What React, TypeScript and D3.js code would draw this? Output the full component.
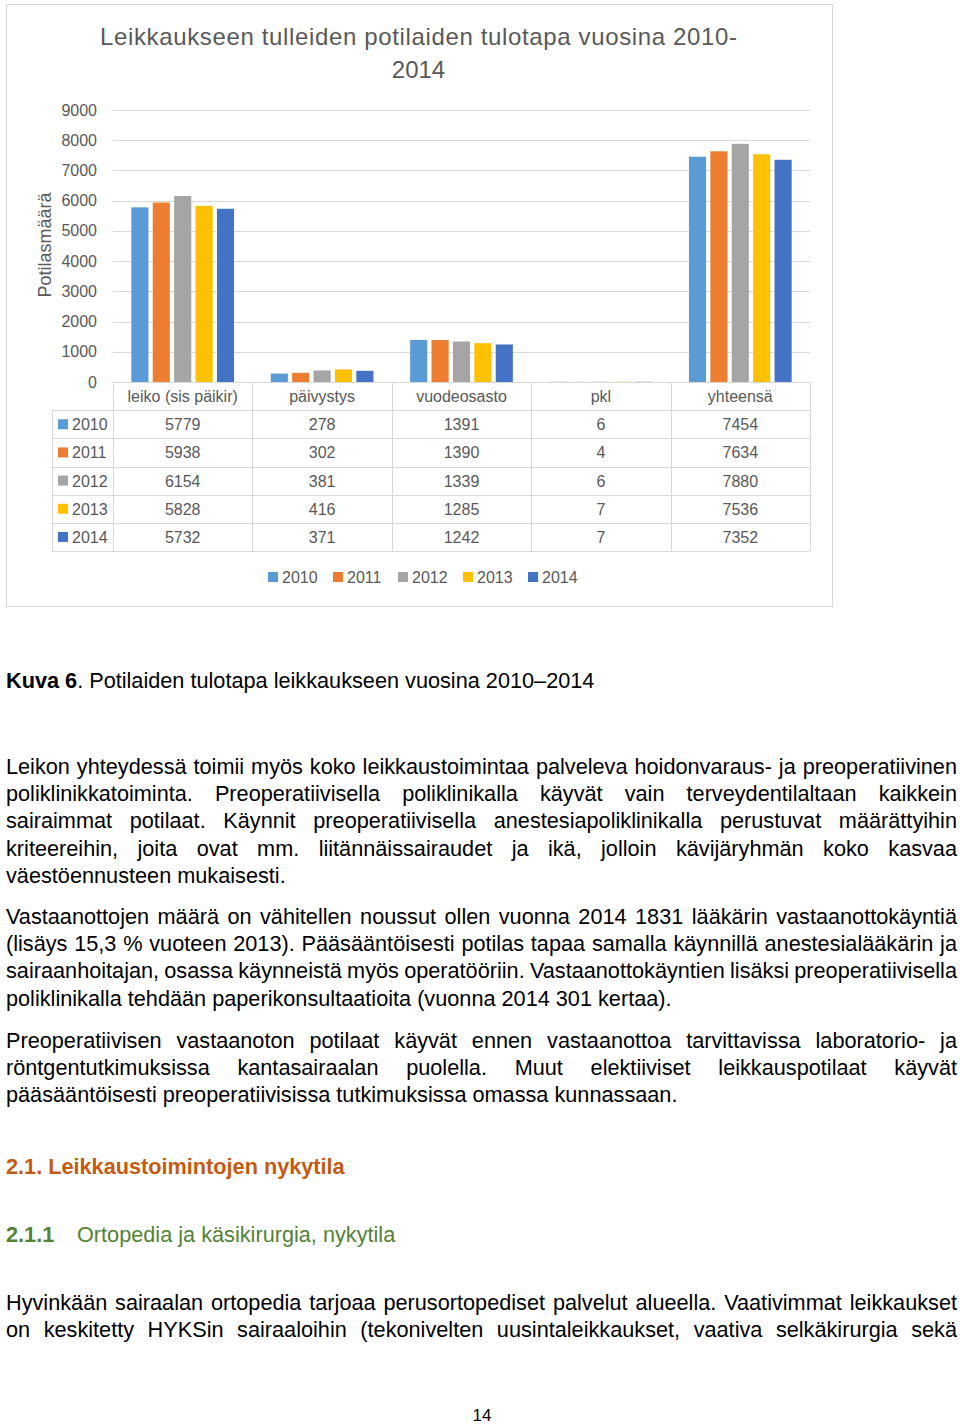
import React, { useMemo } from 'react';
import * as d3 from 'd3';

// ---------- DATA ----------
const categories = ['leiko (sis päikir)', 'päivystys', 'vuodeosasto', 'pkl', 'yhteensä'];
const years = ['2010', '2011', '2012', '2013', '2014'];
const values2010 = [5779, 278, 1391, 6, 7454];
const values2011 = [5938, 302, 1390, 4, 7634];
const values2012 = [6154, 381, 1339, 6, 7880];
const values2013 = [5828, 416, 1285, 7, 7536];
const values2014 = [5732, 371, 1242, 7, 7352];
const seriesValues = [values2010, values2011, values2012, values2013, values2014];
const seriesColors = ['#5B9BD5', '#ED7D31', '#A5A5A5', '#FFC000', '#4472C4'];
const yTicks = [0, 1000, 2000, 3000, 4000, 5000, 6000, 7000, 8000, 9000];
const chartTitleLines = ['Leikkaukseen tulleiden potilaiden tulotapa vuosina 2010-', '2014'];
const yAxisTitle = 'Potilasmäärä';

const captionBold = 'Kuva 6';
const captionRest = '. Potilaiden tulotapa leikkaukseen vuosina 2010–2014';

const paragraph1 = [
  'Leikon yhteydessä toimii myös koko leikkaustoimintaa palveleva hoidonvaraus- ja preoperatiivinen',
  'poliklinikkatoiminta. Preoperatiivisella poliklinikalla käyvät vain terveydentilaltaan kaikkein',
  'sairaimmat potilaat. Käynnit preoperatiivisella anestesiapoliklinikalla perustuvat määrättyihin',
  'kriteereihin, joita ovat mm. liitännäissairaudet ja ikä, jolloin kävijäryhmän koko kasvaa',
  'väestöennusteen mukaisesti.',
];
const paragraph2 = [
  'Vastaanottojen määrä on vähitellen noussut ollen vuonna 2014 1831 lääkärin vastaanottokäyntiä',
  '(lisäys 15,3 % vuoteen 2013). Pääsääntöisesti potilas tapaa samalla käynnillä anestesialääkärin ja',
  'sairaanhoitajan, osassa käynneistä myös operatööriin. Vastaanottokäyntien lisäksi preoperatiivisella',
  'poliklinikalla tehdään paperikonsultaatioita (vuonna 2014 301 kertaa).',
];
const paragraph3 = [
  'Preoperatiivisen vastaanoton potilaat käyvät ennen vastaanottoa tarvittavissa laboratorio- ja',
  'röntgentutkimuksissa kantasairaalan puolella. Muut elektiiviset leikkauspotilaat käyvät',
  'pääsääntöisesti preoperatiivisissa tutkimuksissa omassa kunnassaan.',
];
const heading1 = '2.1. Leikkaustoimintojen nykytila';
const heading2Num = '2.1.1';
const heading2Text = 'Ortopedia ja käsikirurgia, nykytila';
const paragraph4 = [
  'Hyvinkään sairaalan ortopedia tarjoaa perusortopediset palvelut alueella. Vaativimmat leikkaukset',
  'on keskitetty HYKSin sairaaloihin (tekonivelten uusintaleikkaukset, vaativa selkäkirurgia sekä',
];
const pageNumber = '14';

// ---------- HELPERS ----------
const FONT = '"Liberation Sans", Arial, Helvetica, sans-serif';
const BODY = 21.7;
let measureCtx: CanvasRenderingContext2D | null = null;
function measure(text: string, size: number, weight = 'normal') {
  if (!measureCtx) {
    const c = document.createElement('canvas');
    measureCtx = c.getContext('2d');
  }
  if (!measureCtx) return text.length * size * 0.5;
  measureCtx.font = `${weight} ${size}px "Liberation Sans", Arial, sans-serif`;
  return measureCtx.measureText(text).width;
}

function JustifiedLine({ text, x, width, y, size, justify }: { text: string; x: number; width: number; y: number; size: number; justify: boolean }) {
  if (!justify) {
    return (
      <text x={x} y={y} fontSize={size} fill="#000">{text}</text>
    );
  }
  const words = text.split(' ');
  const widths = words.map((w) => measure(w, size));
  const total = d3.sum(widths);
  const gap = (width - total) / (words.length - 1);
  let cx = x;
  const pos = widths.map((w) => {
    const p = cx;
    cx += w + gap;
    return p;
  });
  return (
    <g>
      {words.map((w, i) => (
        <text key={i} x={pos[i]} y={y} fontSize={size} fill="#000">{w}</text>
      ))}
    </g>
  );
}

function Paragraph({ lines, y0, step, justifyLast = false }: { lines: string[]; y0: number; step: number; justifyLast?: boolean }) {
  return (
    <g>
      {lines.map((l, i) => (
        <JustifiedLine key={i} text={l} x={6} width={951} y={y0 + i * step} size={BODY} justify={justifyLast || i < lines.length - 1} />
      ))}
    </g>
  );
}

export default function App() {
  const plotLeft = 113;
  const plotRight = 810;
  const plotTop = 110;
  const plotBottom = 382;
  const tableBottom = 551;
  const legendColLeft = 52;
  const gridColor = '#d9d9d9';
  const textColor = '#595959';

  const y = d3.scaleLinear().domain([0, 9000]).range([plotBottom, plotTop]);
  const x0 = d3.scaleBand<string>().domain(categories).range([plotLeft, plotRight]);
  const x1 = d3.scaleBand<string>().domain(years).range([0, x0.bandwidth()]).paddingInner(0.2).paddingOuter(0.857);
  const rowScale = d3.scaleBand<string>().domain(['header', ...years]).range([plotBottom, tableBottom]);

  const bars = useMemo(() => {
    const out: { x: number; y: number; w: number; h: number; c: string; k: string }[] = [];
    categories.forEach((cat, ci) => {
      years.forEach((yr, si) => {
        const v = seriesValues[si][ci];
        out.push({
          x: (x0(cat) as number) + (x1(yr) as number),
          y: y(v),
          w: x1.bandwidth(),
          h: y(0) - y(v),
          c: seriesColors[si],
          k: `${cat}-${yr}`,
        });
      });
    });
    return out;
  }, []);

  const rowBoundaries = years.map((yr) => rowScale(yr) as number);
  const colBoundaries = categories.map((c) => x0(c) as number).concat([plotRight]);

  return (
    <div style={{ position: 'absolute', left: 0, top: 0 }}>
      <svg width={960} height={1426} style={{ display: 'block', fontFamily: FONT }}>
        <rect x={0} y={0} width={960} height={1426} fill="#fff" />
        {/* chart frame */}
        <rect x={6.5} y={4.5} width={826} height={602} fill="#fff" stroke={gridColor} strokeWidth={1} />

        {/* title */}
        <text x={418.5} y={45} textAnchor="middle" fontSize={24} fill={textColor} textLength={637} lengthAdjust="spacing">
          {chartTitleLines[0]}
        </text>
        <text x={418.5} y={78} textAnchor="middle" fontSize={24} fill={textColor}>
          {chartTitleLines[1]}
        </text>

        {/* y axis title */}
        <text transform={`translate(51,245) rotate(-90)`} textAnchor="middle" fontSize={18} fill={textColor}>
          {yAxisTitle}
        </text>

        {/* gridlines and ticks */}
        {yTicks.map((t) => (
          <g key={t}>
            <line x1={plotLeft} x2={plotRight} y1={Math.round(y(t)) + 0.5} y2={Math.round(y(t)) + 0.5} stroke={gridColor} strokeWidth={1} />
            <text x={97} y={y(t) + 5.5} textAnchor="end" fontSize={16} fill={textColor}>{t}</text>
          </g>
        ))}

        {/* bars */}
        {bars.map((b) => (
          <rect key={b.k} x={b.x} y={b.y} width={b.w} height={b.h} fill={b.c} />
        ))}

        {/* data table */}
        <g stroke={gridColor} strokeWidth={1}>
          <line x1={plotLeft} x2={plotRight} y1={plotBottom + 0.5} y2={plotBottom + 0.5} />
          {rowBoundaries.map((ry, i) => (
            <line key={i} x1={legendColLeft} x2={plotRight} y1={Math.round(ry) + 0.5} y2={Math.round(ry) + 0.5} />
          ))}
          <line x1={legendColLeft} x2={plotRight} y1={tableBottom + 0.5} y2={tableBottom + 0.5} />
          {colBoundaries.map((cx, i) => (
            <line key={i} x1={Math.round(cx) + 0.5} x2={Math.round(cx) + 0.5} y1={plotBottom} y2={tableBottom} />
          ))}
          <line x1={legendColLeft + 0.5} x2={legendColLeft + 0.5} y1={rowBoundaries[0]} y2={tableBottom} />
        </g>
        {categories.map((c) => (
          <text key={c} x={(x0(c) as number) + x0.bandwidth() / 2} y={(rowScale('header') as number) + rowScale.bandwidth() / 2 + 6} textAnchor="middle" fontSize={16} fill={textColor}>
            {c}
          </text>
        ))}
        {years.map((yr, si) => {
          const cy = (rowScale(yr) as number) + rowScale.bandwidth() / 2;
          return (
            <g key={yr}>
              <rect x={58} y={cy - 5} width={10} height={10} fill={seriesColors[si]} />
              <text x={72} y={cy + 6} fontSize={16} fill={textColor}>{yr}</text>
              {categories.map((c, ci) => (
                <text key={c} x={(x0(c) as number) + x0.bandwidth() / 2} y={cy + 6} textAnchor="middle" fontSize={16} fill={textColor}>
                  {seriesValues[si][ci]}
                </text>
              ))}
            </g>
          );
        })}

        {/* legend */}
        {years.map((yr, si) => (
          <g key={yr} transform={`translate(${268 + si * 65},577)`}>
            <rect x={0} y={-5} width={10} height={10} fill={seriesColors[si]} />
            <text x={14} y={6} fontSize={16} fill={textColor}>{yr}</text>
          </g>
        ))}

        {/* caption */}
        <text x={6} y={688} fontSize={BODY} fill="#000">
          <tspan fontWeight="bold">{captionBold}</tspan>
          <tspan>{captionRest}</tspan>
        </text>

        <Paragraph lines={paragraph1} y0={774} step={27.2} />
        <Paragraph lines={paragraph2} y0={924} step={27.2} />
        <Paragraph lines={paragraph3} y0={1048} step={27.2} />

        <text x={6} y={1174} fontSize={BODY} fontWeight="bold" fill="#C55A11">{heading1}</text>
        <text x={6} y={1242} fontSize={BODY} fontWeight="bold" fill="#548235">{heading2Num}</text>
        <text x={77} y={1242} fontSize={BODY} fill="#548235">{heading2Text}</text>

        <Paragraph lines={paragraph4} y0={1310} step={27.2} justifyLast={true} />

        <text x={482} y={1421} textAnchor="middle" fontSize={17} fill="#000">{pageNumber}</text>
      </svg>
    </div>
  );
}
